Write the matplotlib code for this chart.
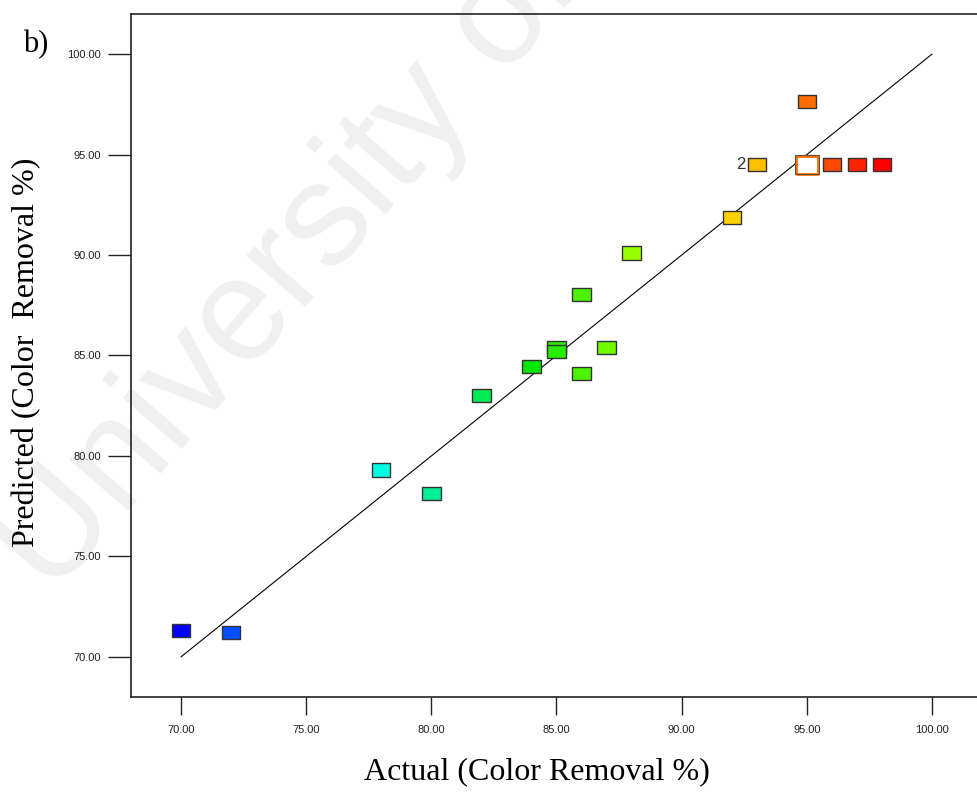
import matplotlib
matplotlib.use("Agg")
import matplotlib.pyplot as plt
from matplotlib.colors import LinearSegmentedColormap
from matplotlib import font_manager
import numpy as np

# ---- data ----
actual = [70, 72, 78, 80, 82, 84, 85, 85, 86, 86, 87, 88, 92, 93, 95, 96, 97, 98]
predicted = [71.3, 71.2, 79.3, 78.15, 83.0, 84.45, 85.4, 85.2, 88.05, 84.1, 85.4, 90.1, 91.85, 94.5, 97.65, 94.5, 94.5, 94.5]
center_actual = [95]
center_predicted = [94.5]
label_points = [(93, 94.5, "2")]
xticks = [70, 75, 80, 85, 90, 95, 100]
yticks = [70, 75, 80, 85, 90, 95, 100]
xlabel = "Actual (Color Removal %)"
ylabel = "Predicted (Color  Removal %)"
panel = "b)"
watermark = "University of"

# colour gradient (by actual value) as used by Design-Expert
stops = [(70, (0, 0, 255)), (72, (0, 80, 255)), (78, (0, 255, 225)), (80, (0, 240, 150)),
         (82, (0, 235, 80)), (84, (0, 230, 0)), (88, (150, 255, 0)), (91, (255, 225, 0)),
         (93, (255, 195, 0)), (95, (255, 110, 0)), (98, (255, 0, 0))]
vmin, vmax = stops[0][0], stops[-1][0]
cmap = LinearSegmentedColormap.from_list(
    "de", [((v - vmin) / (vmax - vmin), tuple(c / 255 for c in col)) for v, col in stops])

installed = {f.name for f in font_manager.fontManager.ttflist}
if "Liberation Sans Narrow" in installed:
    tick_font, tick_size = "Liberation Sans Narrow", 9.5
else:
    tick_font, tick_size = "Liberation Sans", 8

W, H = 977, 798
fig = plt.figure(figsize=(W / 100, H / 100), dpi=100)

# watermark (behind everything)
fig.text(290 / W, 1 - 268 / H, watermark, fontsize=106, family="Liberation Sans",
         color=(0.94, 0.94, 0.94), rotation=49, ha="center", va="center", zorder=-1)

left, top, bottom = 131, 14, 697
right = 982
ax = fig.add_axes([left / W, 1 - bottom / H, (right - left) / W, (bottom - top) / H])
ax.patch.set_alpha(0)
ax.set_xlim(68, 102)
ax.set_ylim(68, 102)

ax.plot([70, 100], [70, 100], color="black", lw=0.8, zorder=2)

rect = [(-1, -0.72), (1, -0.72), (1, 0.72), (-1, 0.72), (-1, -0.72)]
ax.scatter(actual, predicted, marker=rect, s=13.2 ** 2, c=actual, cmap=cmap,
           vmin=vmin, vmax=vmax, edgecolors="#333333", linewidths=1.0, zorder=3)
big = [(-1, -0.8), (1, -0.8), (1, 0.8), (-1, 0.8), (-1, -0.8)]
ax.scatter(center_actual, center_predicted, marker=big,
           s=16 ** 2, facecolors="white",
           edgecolors=cmap((95 - vmin) / (vmax - vmin)), linewidths=2.0, zorder=4)
ax.scatter(center_actual, center_predicted, marker=big,
           s=17.5 ** 2, facecolors="none", edgecolors="#444444", linewidths=0.6, zorder=4)
for x, y, t in label_points:
    ax.annotate(t, (x, y), xytext=(-8, 0), textcoords="offset points", ha="right",
                va="center", fontsize=12, family="Liberation Sans", color="#333333")

for s in ["left", "top", "bottom"]:
    ax.spines[s].set_linewidth(1.2)
    ax.spines[s].set_color("#222222")
ax.spines["right"].set_visible(False)

ax.set_xticks(xticks)
ax.set_yticks(yticks)
ax.set_xticklabels([f"{v:.2f}" for v in xticks], family=tick_font, fontsize=tick_size)
ax.set_yticklabels([f"{v:.2f}" for v in yticks], family=tick_font, fontsize=tick_size)
ax.tick_params(axis="x", direction="out", length=13, width=1, pad=7, colors="#222222")
ax.tick_params(axis="y", direction="out", length=16.5, width=1, pad=5, colors="#222222")

fig.text(537 / W, 1 - 772 / H, xlabel, family="Liberation Serif", fontsize=23,
         ha="center", va="center")
fig.text(27 / W, 1 - 352 / H, ylabel, family="Liberation Serif", fontsize=23,
         ha="center", va="center", rotation=90)
fig.text(36 / W, 1 - 45 / H, panel, family="Liberation Serif", fontsize=22,
         ha="center", va="center")

fig.savefig("out.png", dpi=100)
